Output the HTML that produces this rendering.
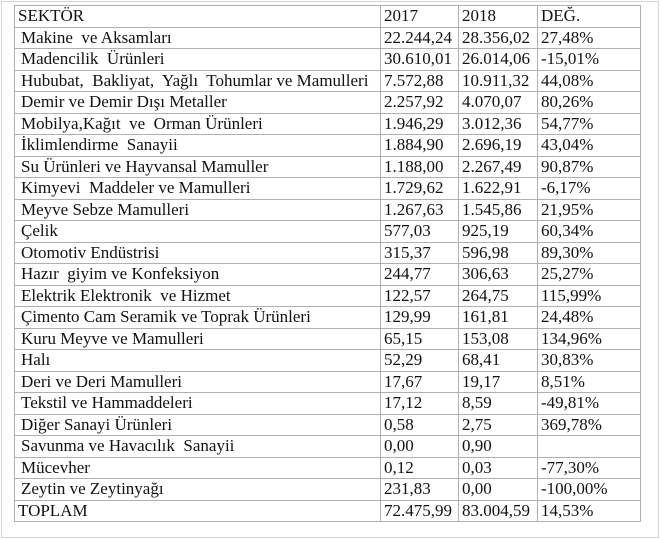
<!DOCTYPE html>
<html><head><meta charset="utf-8"><style>
body{margin:0;width:660px;height:539px;background:#fff;position:relative;overflow:hidden}
#frame{position:absolute;left:1px;top:1px;width:656px;height:535px;border:1px solid #d4d4d4}
table{position:absolute;left:14px;top:5px;border-collapse:collapse;table-layout:fixed;font-family:"Liberation Serif",serif;font-size:17px;color:#111}
td{border:1px solid #b0b0b0;height:20.5px;padding:0 0 0 3px;line-height:20px;white-space:pre;overflow:hidden}
td.s{padding-left:6px}
</style></head><body>
<div id="frame"></div>
<table>
<colgroup><col style="width:366px"><col style="width:78px"><col style="width:79px"><col style="width:103px"></colgroup>
<tbody id="tb"></tbody></table>
<script>
const sectors=["Makine  ve Aksamları","Madencilik  Ürünleri","Hububat,  Bakliyat,  Yağlı  Tohumlar ve Mamulleri","Demir ve Demir Dışı Metaller","Mobilya,Kağıt  ve  Orman Ürünleri","İklimlendirme  Sanayii","Su Ürünleri ve Hayvansal Mamuller","Kimyevi  Maddeler ve Mamulleri","Meyve Sebze Mamulleri","Çelik","Otomotiv Endüstrisi","Hazır  giyim ve Konfeksiyon","Elektrik Elektronik  ve Hizmet","Çimento Cam Seramik ve Toprak Ürünleri","Kuru Meyve ve Mamulleri","Halı","Deri ve Deri Mamulleri","Tekstil ve Hammaddeleri","Diğer Sanayi Ürünleri","Savunma ve Havacılık  Sanayii","Mücevher","Zeytin ve Zeytinyağı"];
const v2017=["22.244,24","30.610,01","7.572,88","2.257,92","1.946,29","1.884,90","1.188,00","1.729,62","1.267,63","577,03","315,37","244,77","122,57","129,99","65,15","52,29","17,67","17,12","0,58","0,00","0,12","231,83"];
const v2018=["28.356,02","26.014,06","10.911,32","4.070,07","3.012,36","2.696,19","2.267,49","1.622,91","1.545,86","925,19","596,98","306,63","264,75","161,81","153,08","68,41","19,17","8,59","2,75","0,90","0,03","0,00"];
const change=["27,48%","-15,01%","44,08%","80,26%","54,77%","43,04%","90,87%","-6,17%","21,95%","60,34%","89,30%","25,27%","115,99%","24,48%","134,96%","30,83%","8,51%","-49,81%","369,78%","","-77,30%","-100,00%"];
const tb=document.getElementById('tb');
function addRow(cells,name,indent){
  const tr=document.createElement('tr');
  
  
  cells.forEach((c,i)=>{const td=document.createElement('td');td.textContent=c;if(i===0&&indent)td.className='s';
    
    
    tr.appendChild(td);});
  tb.appendChild(tr);
}
addRow(["SEKTÖR","2017","2018","DEĞ."],'header-row',false);
sectors.forEach((s,i)=>addRow([s,v2017[i],v2018[i],change[i]],'sector-row',true));
addRow(["TOPLAM","72.475,99","83.004,59","14,53%"],'total-row',false);
</script>
</body></html>
